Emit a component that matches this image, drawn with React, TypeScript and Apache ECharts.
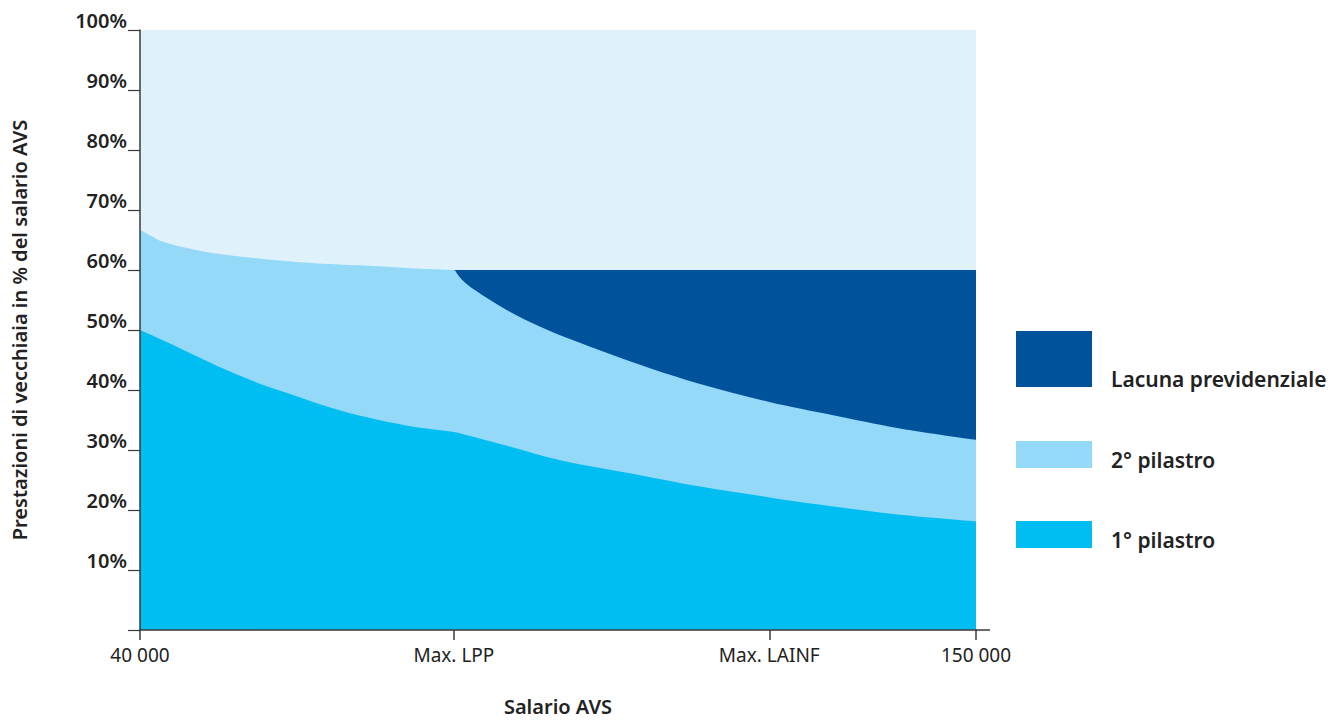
import React, { useEffect, useRef } from "react";
import * as echarts from "echarts";

// Salary positions (x) shared by all boundaries
const LPP = 81300;
const LAINF = 122800;
const MIN_SAL = 40000;
const MAX_SAL = 150000;

const xTickValues = [MIN_SAL, LPP, LAINF, MAX_SAL];
const xTickLabels = ["40 000", "Max. LPP", "Max. LAINF", "150 000"];

// Upper boundary of 1st pillar (% of AVS salary)
const pillar1Sal = [40000, 43000, 47500, 52000, 56500, 61000, 65000, 70000, 75000, 80300, 81300, 82300, 88300, 95300, 105800, 113700, 122800, 131200, 140000, 150000];
const pillar1Top = [50.0, 48.3, 45.6, 43.0, 40.7, 38.8, 37.1, 35.4, 34.1, 33.15, 33.0, 32.7, 30.7, 28.3, 25.8, 23.9, 22.1, 20.6, 19.2, 18.1];

// Upper boundary of 2nd pillar (1st + 2nd)
const pillar2Sal = [40000, 41300, 43000, 47500, 52000, 56500, 61000, 65000, 70000, 75000, 80300, 81300, 81800, 82500, 84000, 88300, 92600, 97000, 105800, 113700, 122800, 131200, 140000, 150000];
const pillar2Top = [66.7, 65.8, 64.7, 63.3, 62.4, 61.8, 61.3, 61.0, 60.7, 60.35, 60.05, 60.0, 59.25, 58.2, 56.7, 53.3, 50.6, 48.3, 44.2, 41.0, 38.0, 35.8, 33.6, 31.7];

// Target level (upper boundary of the pension gap)
const gapSal = [81300, 150000];
const gapTop = [60, 60];

const yTicks = [0, 10, 20, 30, 40, 50, 60, 70, 80, 90, 100];

const legendItems = [
  { name: "Lacuna previdenziale", color: "#00529b" },
  { name: "2° pilastro", color: "#94d9f8" },
  { name: "1° pilastro", color: "#00bdf2" },
];

const FONT = "'Noto Sans', 'Open Sans', sans-serif";
const AXIS = "#3a3a3a";
const TEXT = "#222";

function pairs(xs: number[], ys: number[]) {
  return xs.map((x, i) => [x, ys[i]]);
}

export default function App() {
  const ref = useRef<HTMLDivElement>(null);
  useEffect(() => {
    if (!ref.current) return;
    const chart = echarts.init(ref.current, undefined, { renderer: "svg" });
    const area = (name: string, data: number[][], color: string, z: number, smooth: number) => ({
      name,
      type: "line",
      data,
      symbol: "none",
      smooth,
      lineStyle: { width: 0 },
      areaStyle: { color, opacity: 1, origin: "start" },
      itemStyle: { color },
      z,
      silent: true,
    });
    chart.setOption({
      animation: false,
      backgroundColor: "#ffffff",
      grid: {
        left: 140,
        right: 362,
        top: 30,
        bottom: 90,
        show: true,
        backgroundColor: "#dff2fb",
        borderWidth: 0,
        containLabel: false,
        outerBoundsMode: "none",
      },
      xAxis: {
        type: "value",
        min: MIN_SAL,
        max: MAX_SAL,
        name: "Salario AVS",
        nameLocation: "middle",
        nameGap: 66,
        nameTextStyle: { fontFamily: FONT, fontSize: 20, fontWeight: 600, color: TEXT, verticalAlign: "top", lineHeight: 20 },
        axisLine: { show: true, onZero: false, lineStyle: { color: AXIS, width: 1.5 } },
        axisTick: { show: true, length: 10, customValues: xTickValues, lineStyle: { color: AXIS, width: 1.5 } },
        axisLabel: {
          customValues: xTickValues,
          formatter: (v: number) => {
            const i = xTickValues.indexOf(v);
            return i >= 0 ? xTickLabels[i] : "";
          },
          fontFamily: FONT,
          fontSize: 19,
          color: TEXT,
          margin: 15,
        },
        splitLine: { show: false },
        z: 10,
      },
      yAxis: {
        type: "value",
        min: 0,
        max: 100,
        interval: 10,
        name: "Prestazioni di vecchiaia in % del salario AVS",
        nameLocation: "middle",
        nameGap: 111,
        nameRotate: 90,
        nameTextStyle: { fontFamily: FONT, fontSize: 20, fontWeight: 600, color: TEXT },
        axisLine: { show: true, lineStyle: { color: AXIS, width: 1.5 } },
        axisTick: { show: true, length: 12, lineStyle: { color: AXIS, width: 1.2 } },
        axisLabel: {
          formatter: (v: number) => (yTicks.indexOf(v) > 0 ? v + "%" : ""),
          fontFamily: FONT,
          fontSize: 20,
          fontWeight: 600,
          color: TEXT,
          margin: 13,
          verticalAlign: "bottom",
          lineHeight: 20,
        },
        splitLine: { show: false },
        z: 10,
      },
      series: [
        area("Lacuna previdenziale", pairs(gapSal, gapTop), legendItems[0].color, 2, 0),
        area("2° pilastro", pairs(pillar2Sal, pillar2Top), legendItems[1].color, 3, 0.35),
        area("1° pilastro", pairs(pillar1Sal, pillar1Top), legendItems[2].color, 4, 0.35),
      ],
      graphic: [
        { type: "line", shape: { x1: 976, y1: 630, x2: 990, y2: 630 }, style: { stroke: AXIS, lineWidth: 1.5 }, z: 20 },
        { type: "rect", shape: { x: 1016, y: 331, width: 76, height: 56 }, style: { fill: legendItems[0].color } },
        { type: "text", x: 1111, y: 379, style: { text: legendItems[0].name, font: `600 21px ${FONT}`, fill: TEXT, verticalAlign: "middle" } },
        { type: "rect", shape: { x: 1016, y: 441, width: 76, height: 27 }, style: { fill: legendItems[1].color } },
        { type: "text", x: 1111, y: 460, style: { text: legendItems[1].name, font: `600 21px ${FONT}`, fill: TEXT, verticalAlign: "middle" } },
        { type: "rect", shape: { x: 1016, y: 521, width: 76, height: 27 }, style: { fill: legendItems[2].color } },
        { type: "text", x: 1111, y: 540, style: { text: legendItems[2].name, font: `600 21px ${FONT}`, fill: TEXT, verticalAlign: "middle" } },
      ],
    });
    return () => chart.dispose();
  }, []);
  return (
    <div
      ref={ref}
      style={{ position: "fixed", left: 0, top: 0, width: 1338, height: 720, background: "#fff" }}
    />
  );
}
